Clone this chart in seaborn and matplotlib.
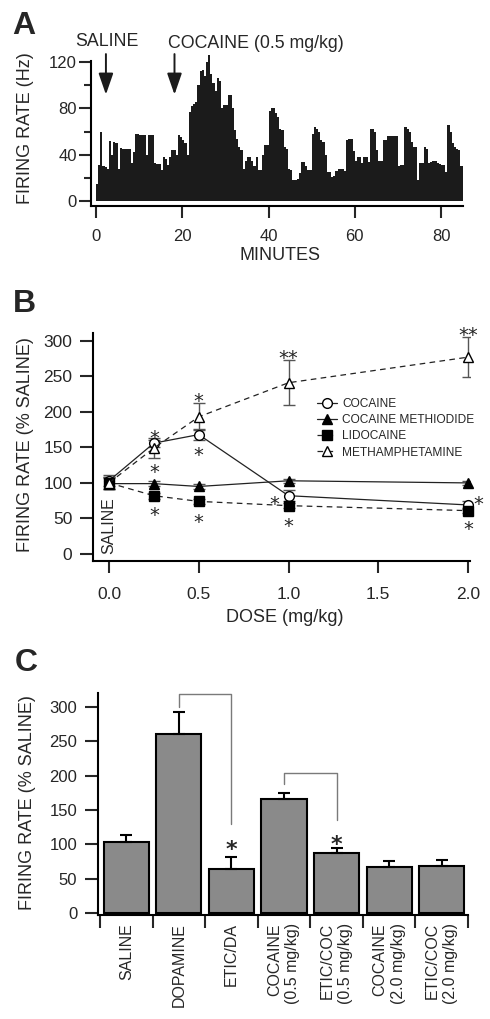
import numpy as np
import pandas as pd
import matplotlib
matplotlib.use("Agg")
import matplotlib.pyplot as plt
from matplotlib.ticker import FixedLocator, FormatStrFormatter
import seaborn as sns

# ---------------- Panel A data (0.5-min bins, Hz) ----------------
bin_width = 0.5
rate_hz = [
    15, 31, 60, 30, 29, 28, 52, 40, 51, 50,
    28, 46, 45, 45, 45, 45, 33, 42, 58, 58,
    57, 57, 57, 40, 57, 57, 57, 33, 32, 32,
    27, 38, 36, 31, 38, 44, 44, 40, 57, 55,
    53, 50, 40, 77, 82, 84, 86, 100, 112, 113,
    108, 120, 126, 110, 102, 95, 106, 104, 80, 83,
    83, 92, 92, 80, 61, 54, 47, 44, 28, 35,
    38, 38, 35, 30, 38, 27, 27, 40, 48, 48,
    78, 80, 80, 76, 73, 62, 61, 47, 45, 28,
    27, 18, 18, 19, 24, 34, 34, 30, 27, 27,
    58, 64, 62, 60, 53, 51, 40, 25, 25, 21,
    22, 26, 28, 28, 28, 26, 53, 54, 54, 43,
    35, 38, 38, 33, 38, 38, 34, 62, 62, 60,
    44, 35, 35, 53, 53, 56, 56, 56, 56, 56,
    30, 31, 31, 64, 62, 60, 51, 47, 47, 18,
    33, 33, 47, 45, 33, 34, 35, 35, 33, 32,
    31, 31, 25, 66, 60, 50, 47, 45, 44, 30,
]
a_xticks = [0, 20, 40, 60, 80]
a_yticks = [0, 40, 80, 120]
a_yminor = [20, 60, 100]
saline_inj_min = 2.3
cocaine_inj_min = 18.2

# ---------------- Panel B data ----------------
dose = [0.0, 0.25, 0.5, 1.0, 2.0]
cocaine = [103, 156, 168, 82, 69]
cocaine_err = [8, 5, 8, 8, 6]
methiodide = [99, 99, 95, 103, 100]
methiodide_err = [8, 3, 3, 3, 3]
lidocaine = [100, 82, 74, 68, 61]
lidocaine_err = [8, 4, 4, 4, 4]
metham = [100, 149, 193, 241, 277]
metham_err = [8, 14, 19, 32, 28]
b_xticks = [0.0, 0.5, 1.0, 1.5, 2.0]
b_yticks = [0, 50, 100, 150, 200, 250, 300]
b_star_x = [0.25, 0.25, 0.25, 0.5, 0.5, 0.5, 1.0, 0.92, 1.0, 2.0, 2.055, 2.0]
b_star_y = [171, 123, 62, 222, 147, 52, 283, 78, 47, 315, 78, 43]
b_star_s = ["*", "*", "*", "*", "*", "*", "**", "*", "*", "**", "*", "*"]

# ---------------- Panel C data ----------------
c_labels = ["SALINE", "DOPAMINE", "ETIC/DA", "COCAINE\n(0.5 mg/kg)",
            "ETIC/COC\n(0.5 mg/kg)", "COCAINE\n(2.0 mg/kg)", "ETIC/COC\n(2.0 mg/kg)"]
c_values = [103, 260, 64, 166, 87, 67, 69]
c_err = [11, 32, 17, 9, 7, 9, 8]
c_yticks = [0, 50, 100, 150, 200, 250, 300]

sns.set_style("ticks")
plt.rcParams["font.family"] = ["Liberation Sans", "DejaVu Sans"]

W, H = 490, 1019
fig = plt.figure(figsize=(W / 100, H / 100), dpi=100)


def fx(px):
    return px / W


def fy(py):
    return 1 - py / H


def style_axes(ax):
    sns.despine(ax=ax)
    for s in ("left", "bottom"):
        ax.spines[s].set_linewidth(1.5)
        ax.spines[s].set_color("black")


# ================= Panel A =================
axA = fig.add_axes([fx(91), fy(206), fx(463) - fx(91), (206 - 50.6) / H])
n_bins = len(rate_hz)
centers = np.arange(n_bins) * bin_width + bin_width / 2
dfA = pd.DataFrame({"minute": centers, "rate": rate_hz})
sns.histplot(data=dfA, x="minute", weights="rate", binwidth=bin_width,
             binrange=(0, n_bins * bin_width), ax=axA,
             color="#1b1b1b", alpha=1, linewidth=0, element="step")
axA.set_xlim(-1.16, 85.1)
axA.set_ylim(-4.3, 130)
style_axes(axA)
axA.spines["left"].set_bounds(-4.3, 121)
axA.set_xticks(a_xticks)
axA.set_yticks(a_yticks)
axA.yaxis.set_minor_locator(FixedLocator(a_yminor))
axA.tick_params(axis="y", which="major", length=8.6, width=1.5, pad=1.5, labelsize=12)
axA.tick_params(axis="y", which="minor", length=5, width=1.5)
axA.tick_params(axis="x", which="major", length=8.6, width=1.5, pad=8, labelsize=12)
axA.set_xlabel("")
axA.set_ylabel("")
for xm in (saline_inj_min, cocaine_inj_min):
    axA.annotate("", xy=(xm, 92), xytext=(xm, 127),
                 arrowprops=dict(arrowstyle="-|>,head_length=1.3,head_width=0.45",
                                 color="#1b1b1b", lw=1.4, mutation_scale=10,
                                 shrinkA=0, shrinkB=0),
                 annotation_clip=False)
fig.text(fx(107), fy(42), "SALINE", ha="center", va="center", fontsize=12.8)
fig.text(fx(168), fy(43), "COCAINE (0.5 mg/kg)", ha="left", va="center", fontsize=12.8)
fig.text(fx(26), fy(128), "FIRING RATE (Hz)", rotation=90, ha="center", va="center", fontsize=13)
fig.text(fx(280), fy(256), "MINUTES", ha="center", va="center", fontsize=13)
fig.text(fx(12), fy(11), "A", ha="left", va="top", fontsize=23, fontweight="bold")

# ================= Panel B =================
axB = fig.add_axes([fx(93), fy(561), fx(470) - fx(93), 228 / H])
err_kw = dict(fmt="none", ecolor="#555555", elinewidth=1.0, capsize=4, capthick=1.0, zorder=1)
axB.errorbar(dose, metham, yerr=metham_err, **err_kw)
axB.errorbar(dose, cocaine, yerr=cocaine_err, **err_kw)
axB.errorbar(dose, lidocaine, yerr=lidocaine_err, **err_kw)
axB.errorbar(dose, methiodide, yerr=methiodide_err, **err_kw)
dash = (0, (4.5, 3.5))
sns.lineplot(x=dose, y=cocaine, ax=axB, color="#222222", lw=0.9, marker="o",
             markersize=7, markerfacecolor="white", markeredgecolor="black",
             markeredgewidth=1.0, label="COCAINE", clip_on=False, zorder=3)
sns.lineplot(x=dose, y=methiodide, ax=axB, color="#222222", lw=0.9, marker="^",
             markersize=7, markerfacecolor="black", markeredgecolor="black",
             markeredgewidth=1.0, label="COCAINE METHIODIDE", clip_on=False, zorder=3)
sns.lineplot(x=dose, y=lidocaine, ax=axB, color="#222222", lw=0.9, marker="s",
             linestyle=dash, markersize=6.5, markerfacecolor="black",
             markeredgecolor="black", markeredgewidth=1.0, label="LIDOCAINE",
             clip_on=False, zorder=3)
sns.lineplot(x=dose, y=metham, ax=axB, color="#222222", lw=0.9, marker="^",
             linestyle=dash, markersize=7, markerfacecolor="white",
             markeredgecolor="black", markeredgewidth=1.0, label="METHAMPHETAMINE",
             clip_on=False, zorder=3)
axB.set_xlim(-0.089, 2.011)
axB.set_ylim(-9.9, 311)
style_axes(axB)
axB.set_xticks(b_xticks)
axB.xaxis.set_major_formatter(FormatStrFormatter("%.1f"))
axB.set_yticks(b_yticks)
axB.tick_params(axis="y", length=9.4, width=1.5, pad=5.5, labelsize=12.5)
axB.tick_params(axis="x", length=8.6, width=1.5, pad=10, labelsize=12.5)
leg = axB.legend(loc="upper left", bbox_to_anchor=(0.594, 0.715), frameon=False,
                 fontsize=8.6, handlelength=1.7, handletextpad=0.4,
                 labelspacing=0.35, borderpad=0, borderaxespad=0)
for sx, sy, st in zip(b_star_x, b_star_y, b_star_s):
    axB.annotate(st, (sx, sy), xytext=(0, -8), textcoords="offset points",
                 ha="center", va="baseline", fontsize=14, family="DejaVu Sans",
                 annotation_clip=False)
axB.text(0.0, 0, "SALINE", rotation=90, ha="center", va="bottom", fontsize=11.5)
fig.text(fx(26), fy(445), "FIRING RATE (% SALINE)", rotation=90, ha="center",
         va="center", fontsize=13)
fig.text(fx(285), fy(617), "DOSE (mg/kg)", ha="center", va="center", fontsize=13)
fig.text(fx(13), fy(289), "B", ha="left", va="top", fontsize=23, fontweight="bold")

# ================= Panel C =================
axC = fig.add_axes([fx(98), fy(915), fx(468) - fx(98), 222 / H])
sns.barplot(x=list(range(len(c_labels))), y=c_values, ax=axC, color="#8a8a8a",
            saturation=1, edgecolor="black", linewidth=1.5, width=0.86,
            native_scale=True, errorbar=None)
axC.errorbar(list(range(len(c_labels))), c_values,
             yerr=[[0] * len(c_err), c_err], fmt="none", ecolor="black",
             elinewidth=1.5, capsize=4, capthick=1.5, zorder=3)
axC.set_xlim(-0.538, 6.5)
axC.set_ylim(-2.9, 320)
style_axes(axC)
axC.set_yticks(c_yticks)
axC.set_xticks(range(len(c_labels)))
axC.set_xticklabels(c_labels, rotation=90, ha="center", va="top",
                    multialignment="right", fontsize=11.5, linespacing=1.25)
axC.xaxis.set_minor_locator(FixedLocator(np.arange(-0.5, 7, 1.0)))
axC.tick_params(axis="x", which="major", length=0, pad=5.8)
axC.tick_params(axis="x", which="minor", length=9.4, width=1.5)
axC.tick_params(axis="y", length=9.4, width=1.5, pad=5.5, labelsize=12)
axC.set_xlabel("")
axC.set_ylabel("")
br_kw = dict(color="#7a7a7a", lw=1.0, clip_on=False, zorder=4)
axC.plot([1, 1, 2, 2], [300, 318, 318, 130], **br_kw)
axC.plot([3, 3, 4, 4], [188, 204, 204, 135], **br_kw)
for sx, sy in ((2, 101), (4, 108)):
    axC.annotate("*", (sx, sy), xytext=(0, -9), textcoords="offset points",
                 ha="center", va="baseline", fontsize=16, fontweight="bold",
                 family="DejaVu Sans", annotation_clip=False)
fig.text(fx(27), fy(803), "FIRING RATE (% SALINE)", rotation=90, ha="center",
         va="center", fontsize=13)
fig.text(fx(15), fy(648), "C", ha="left", va="top", fontsize=23, fontweight="bold")

fig.savefig("out.png", dpi=100)
